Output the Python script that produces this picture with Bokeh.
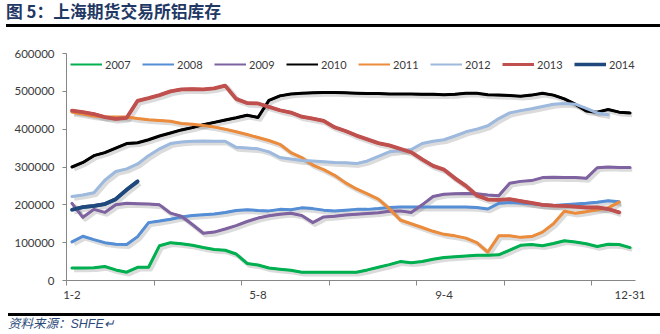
from bokeh.plotting import figure
from bokeh.models import (ColumnDataSource, FixedTicker, Legend, LegendItem,
                          Range1d, NumeralTickFormatter, Div)
from bokeh.layouts import column
from bokeh.transform import dodge
from bokeh.embed import file_html
from bokeh.resources import INLINE

# ---------------- data ----------------
title_text = "图 5：上海期货交易所铝库存"
source_text = "资料来源：SHFE↵"
tick_positions = [0, 17, 34, 51]
tick_labels = ["1-2", "5-8", "9-4", "12-31"]
minor_tick_positions = [-0.5, 7.5, 15.5, 23.5, 31.5, 39.5, 47.5]
y_ticks = [0, 100000, 200000, 300000, 400000, 500000, 600000]

years = ["2007", "2008", "2009", "2010", "2011", "2012", "2013", "2014"]

s2007 = [33000, 33000, 34000, 37000, 28000, 22000, 35000, 35000, 92000, 100000,
         97000, 93000, 87000, 82000, 80000, 70000, 45000, 41000, 33000, 30000,
         27000, 22000, 22000, 22000, 22000, 22000, 22000, 28000, 35000, 42000,
         50000, 47000, 50000, 56000, 61000, 63000, 65000, 67000, 67000, 68000,
         80000, 93000, 95000, 92000, 98000, 105000, 102000, 97000, 90000, 96000,
         95000, 87000]
s2008 = [102000, 117000, 108000, 100000, 96000, 95000, 116000, 153000, 157000, 162000,
         168000, 172000, 174000, 176000, 180000, 185000, 187000, 185000, 184000, 188000,
         187000, 192000, 190000, 186000, 184000, 186000, 188000, 188000, 190000, 193000,
         194000, 194000, 194000, 194000, 194000, 194000, 194000, 193000, 189000, 204000,
         206000, 205000, 203000, 200000, 198000, 200000, 202000, 204000, 207000, 211000,
         208000]
s2009 = [204000, 167000, 188000, 180000, 200000, 204000, 203000, 202000, 200000, 178000,
         170000, 148000, 125000, 128000, 136000, 145000, 156000, 165000, 171000, 175000,
         178000, 172000, 153000, 168000, 170000, 173000, 175000, 177000, 179000, 183000,
         184000, 180000, 200000, 222000, 228000, 229000, 230000, 229000, 226000, 224000,
         257000, 262000, 264000, 272000, 273000, 272000, 272000, 270000, 298000, 300000,
         299000, 299000]
s2010 = [300000, 312000, 330000, 338000, 350000, 362000, 364000, 372000, 382000, 390000,
         398000, 404000, 412000, 418000, 424000, 430000, 437000, 431000, 476000, 488000,
         493000, 495000, 496000, 497000, 497000, 496000, 495000, 494000, 494000, 493000,
         493000, 493000, 492000, 492000, 491000, 492000, 495000, 495000, 491000, 490000,
         489000, 487000, 490000, 495000, 490000, 480000, 466000, 448000, 445000, 452000,
         445000, 443000]
s2011 = [445000, 440000, 435000, 432000, 432000, 432000, 428000, 425000, 423000, 421000,
         415000, 413000, 410000, 406000, 400000, 393000, 386000, 378000, 370000, 360000,
         338000, 325000, 305000, 293000, 278000, 258000, 242000, 229000, 215000, 190000,
         160000, 150000, 140000, 130000, 122000, 118000, 112000, 100000, 75000, 118000,
         118000, 114000, 116000, 128000, 150000, 183000, 178000, 182000, 187000, 192000,
         207000]
s2012 = [222000, 226000, 232000, 265000, 288000, 295000, 308000, 330000, 348000, 362000,
         366000, 368000, 369000, 368000, 368000, 352000, 350000, 348000, 340000, 325000,
         321000, 317000, 316000, 314000, 312000, 311000, 309000, 316000, 328000, 340000,
         343000, 346000, 362000, 368000, 372000, 382000, 393000, 400000, 409000, 428000,
         443000, 449000, 454000, 460000, 466000, 468000, 466000, 455000, 443000, 438000]
s2013 = [449000, 445000, 440000, 432000, 427000, 430000, 475000, 482000, 490000, 500000,
         505000, 506000, 505000, 508000, 515000, 480000, 469000, 468000, 459000, 450000,
         444000, 433000, 428000, 422000, 405000, 395000, 383000, 373000, 363000, 357000,
         348000, 339000, 320000, 303000, 293000, 270000, 250000, 225000, 214000, 213000,
         215000, 210000, 205000, 200000, 198000, 197000, 195000, 193000, 193000, 189000,
         180000]
s2014 = [187000, 194000, 197000, 202000, 215000, 240000, 262000]

series = [s2007, s2008, s2009, s2010, s2011, s2012, s2013, s2014]
colors = ["#00B050", "#558ED5", "#7F62A0", "#000000", "#EB8B3C", "#9DB9DE", "#C0504D", "#1F497D"]
line_widths = [3, 3, 3, 3, 3, 3, 3.8, 3.8]
legend_widths = [2, 2, 2, 2.2, 2, 2, 3, 3.5]

AXIS = "#868686"
TXT = "#3a3a3a"
FONT = "Lato"

p = figure(width=660, height=278, output_backend="svg", toolbar_location=None,
           x_range=Range1d(-0.5, 51.5), y_range=Range1d(0, 600000),
           min_border_left=66, min_border_right=25, min_border_top=23, min_border_bottom=28,
           background_fill_color="white", border_fill_color="white", margin=0)
p.outline_line_color = None
p.xgrid.visible = False
p.ygrid.visible = False

sources = [ColumnDataSource(dict(x=list(range(len(s))), y=s)) for s in series]

# shadows
for src, w in zip(sources, line_widths):
    p.line(x=dodge("x", 0.2), y=dodge("y", -5500), source=src, line_color="#000000",
           line_alpha=0.14, line_width=w + 1.5, line_join="round")
# legend carriers (hidden beneath the real lines)
items = []
for yr, src, c, w in zip(years, sources, colors, legend_widths):
    r = p.line(x="x", y="y", source=src, line_color=c, line_width=w)
    items.append(LegendItem(label=yr, renderers=[r]))
# series lines
for src, c, w in zip(sources, colors, line_widths):
    p.line(x="x", y="y", source=src, line_color=c, line_width=w, line_join="round", line_cap="round")

legend = Legend(items=items, orientation="horizontal", location=(4, 208),
                glyph_width=32, glyph_height=16, label_height=16, label_width=26,
                label_standoff=3, spacing=11, padding=0, margin=0,
                border_line_alpha=0, background_fill_alpha=0,
                label_text_font=FONT, label_text_font_size="11px", label_text_color=TXT)
p.add_layout(legend)

# axes
xa = p.xaxis[0]
xa.ticker = FixedTicker(ticks=tick_positions, minor_ticks=minor_tick_positions)
xa.major_label_overrides = {t: l for t, l in zip(tick_positions, tick_labels)}
xa.major_tick_out = 0
xa.major_tick_in = 0
xa.minor_tick_out = 5
xa.minor_tick_in = 0
xa.minor_tick_line_color = AXIS
xa.axis_line_color = AXIS
xa.major_label_standoff = 5
xa.major_label_text_font = FONT
xa.major_label_text_font_size = "11.5px"
xa.major_label_text_color = TXT

ya = p.yaxis[0]
ya.ticker = FixedTicker(ticks=y_ticks)
ya.formatter = NumeralTickFormatter(format="0")
ya.major_tick_out = 4
ya.major_tick_in = 0
ya.minor_tick_out = 0
ya.minor_tick_in = 0
ya.major_tick_line_color = AXIS
ya.axis_line_color = AXIS
ya.major_label_standoff = 8
ya.major_label_text_font = FONT
ya.major_label_text_font_size = "11.5px"
ya.major_label_text_color = TXT

title_div = Div(width=660, height=30, margin=0, text=(
    '<div style="position:relative;width:660px;height:30px;">'
    '<div style="position:absolute;left:6px;top:1px;white-space:nowrap;'
    "font-family:'Noto Sans CJK SC';font-weight:bold;font-size:16.8px;line-height:21px;"
    'color:#1F3864;">' + title_text + '</div>'
    '<div style="position:absolute;left:6px;top:24.3px;width:654px;height:2.4px;background:#000;"></div>'
    '</div>'))

footer_div = Div(width=660, height=26, margin=0, text=(
    '<div style="position:relative;width:660px;height:26px;">'
    '<div style="position:absolute;left:8px;top:5.3px;width:652px;height:2.4px;background:#000;"></div>'
    '<div style="position:absolute;left:8px;top:7px;white-space:nowrap;'
    "font-family:'Liberation Sans','Noto Sans CJK SC';font-style:italic;font-size:12.5px;"
    'line-height:18px;color:#2B4A78;">' + source_text + '</div>'
    '</div>'))

layout = column(title_div, p, footer_div, spacing=0, margin=0)

open("out.html", "w").write(file_html(layout, INLINE))
